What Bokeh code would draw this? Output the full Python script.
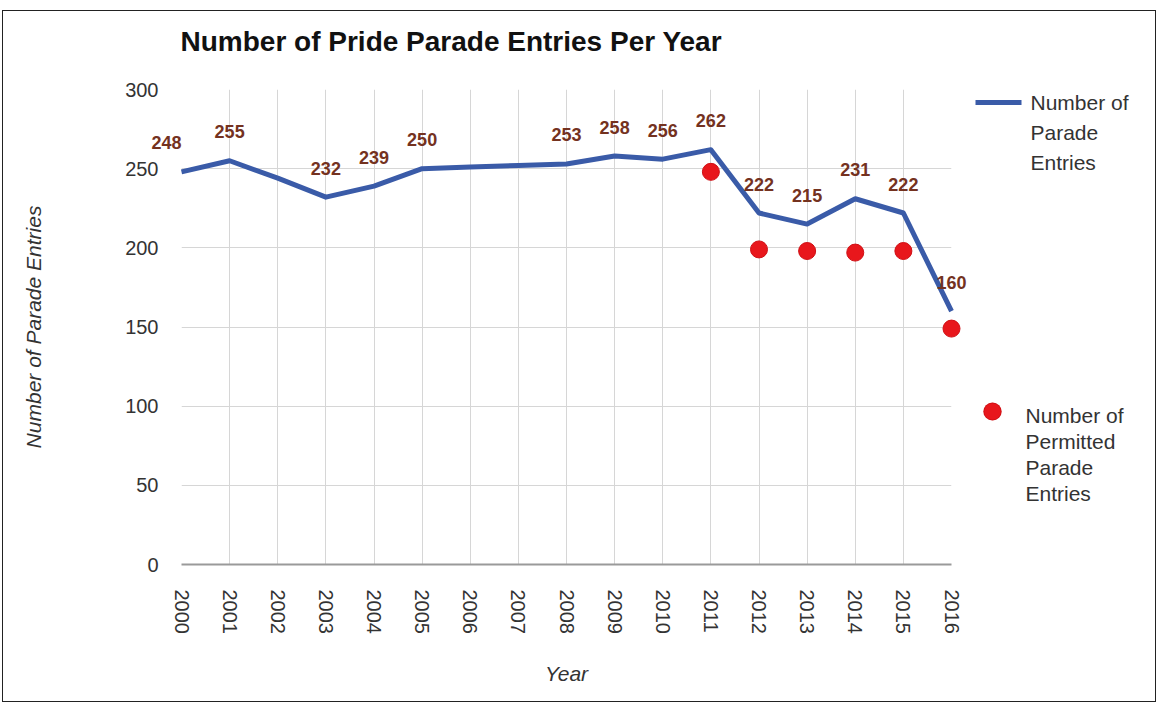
from bokeh.plotting import figure
from bokeh.models import Range1d, FixedTicker, ColumnDataSource
from bokeh.embed import file_html
from bokeh.resources import INLINE
from bokeh.core.properties import value

# ---- data ----
years = list(range(2000, 2017))
entries = [248, 255, 244, 232, 239, 250, 251, 252, 253, 258, 256, 262, 222, 215, 231, 222, 160]
label_shown = [True, True, False, True, True, True, False, False, True, True, True, True, True, True, True, True, True]
permitted_years = [2011, 2012, 2013, 2014, 2015, 2016]
permitted = [248, 199, 198, 197, 198, 149]
y_ticks = [0, 50, 100, 150, 200, 250, 300]

title_text = "Number of Pride Parade Entries Per Year"
x_title = "Year"
y_title = "Number of Parade Entries"
legend_entries = ["Number of", "Parade", "Entries"]
legend_permitted = ["Number of", "Permitted", "Parade", "Entries"]

FONT = "Liberation Sans"
BLUE = "#3a5ba8"
RED = "#e8171c"
LABEL_COL = "#74321f"
TXT = "#333333"

# page offset of the figure (margin) and frame placement (page pixels)
OX, OY = 2, 10
PX_L, PX_R, PX_T, PX_B = 181, 951, 89, 564
FL, FR, FT, FB = PX_L - OX - 1, PX_R - OX - 1, PX_T - OY - 1, PX_B - OY - 1
W, H = 1154, 692

x0, x1 = years[0], years[-1]
y0, y1 = y_ticks[0], y_ticks[-1]


def px_to_data(px, py):
    """page pixel -> data coords (used only for the legend swatches outside the frame)"""
    return (x0 + (px - PX_L) * (x1 - x0) / (PX_R - PX_L),
            y0 + (PX_B - py) * (y1 - y0) / (PX_B - PX_T))


p = figure(width=W, height=H,
           x_range=Range1d(x0, x1), y_range=Range1d(y0, y1),
           output_backend="svg", toolbar_location=None,
           min_border_left=FL, min_border_right=W - FR,
           min_border_top=FT, min_border_bottom=H - FB)
p.styles = {"border": "1px solid #222", "margin-left": f"{OX}px", "margin-top": f"{OY}px"}
p.outline_line_color = None
p.background_fill_color = "white"

# grid
p.xgrid.ticker = FixedTicker(ticks=years)
p.ygrid.ticker = FixedTicker(ticks=y_ticks)
p.xgrid.grid_line_color = "#d6d6d6"
p.ygrid.grid_line_color = "#d6d6d6"

# x axis
p.xaxis.ticker = FixedTicker(ticks=years)
p.xaxis.major_label_orientation = "vertical"
p.xaxis.axis_line_color = "#9a9a9a"
p.xaxis.axis_line_width = 2
p.xaxis.major_tick_line_color = None
p.xaxis.minor_tick_line_color = None
p.xaxis.major_tick_out = 0
p.xaxis.major_tick_in = 0
p.xaxis.major_label_standoff = 25
p.xaxis.major_label_text_font = FONT
p.xaxis.major_label_text_font_size = "20px"
p.xaxis.major_label_text_color = TXT
p.xaxis.axis_label = x_title
p.xaxis.axis_label_text_font = FONT
p.xaxis.axis_label_text_font_size = "21px"
p.xaxis.axis_label_text_font_style = "italic"
p.xaxis.axis_label_text_color = TXT
p.xaxis.axis_label_standoff = 25

# y axis
p.yaxis.ticker = FixedTicker(ticks=y_ticks)
p.yaxis.axis_line_color = None
p.yaxis.major_tick_line_color = None
p.yaxis.minor_tick_line_color = None
p.yaxis.major_tick_out = 0
p.yaxis.major_tick_in = 0
p.yaxis.major_label_standoff = 23
p.yaxis.major_label_text_font = FONT
p.yaxis.major_label_text_font_size = "20px"
p.yaxis.major_label_text_color = TXT
p.yaxis.axis_label = y_title
p.yaxis.axis_label_text_font = FONT
p.yaxis.axis_label_text_font_size = "21px"
p.yaxis.axis_label_text_font_style = "italic"
p.yaxis.axis_label_text_color = TXT
p.yaxis.axis_label_standoff = 77

# series
p.line(years, entries, line_color=BLUE, line_width=5, line_join="round", level="overlay")
p.scatter(permitted_years, permitted, size=17, fill_color=RED, line_color="#d01015",
          line_width=1, level="overlay")

# data labels
lab_x = [y for y, s in zip(years, label_shown) if s]
lab_v = [v for v, s in zip(entries, label_shown) if s]
lab_dx = [-15 if y == years[0] else 0 for y in lab_x]
src = ColumnDataSource(dict(x=lab_x, y=lab_v, t=[str(v) for v in lab_v], dx=lab_dx))
p.text(x="x", y="y", text="t", source=src, x_offset="dx", y_offset=-29,
       text_align="center", text_baseline="middle", text_font=value(FONT),
       text_font_size="18px", text_font_style="bold", text_color=LABEL_COL, level="overlay")

# title, anchored at the frame's top-left corner with pixel offsets
p.text(x=[x0], y=[y1], text=[title_text], x_offset=-1, y_offset=41 - PX_T,
       text_align="left", text_baseline="middle", text_font=value(FONT),
       text_font_size="28px", text_font_style="bold", text_color="#111111", level="overlay")

# legend texts, anchored at the frame's top-right corner with pixel offsets
leg1_dy = [102 - PX_T + 30 * i for i in range(len(legend_entries))]
p.text(x=[x1] * len(legend_entries), y=[y1] * len(legend_entries), text=legend_entries,
       x_offset=1030 - PX_R, y_offset=leg1_dy,
       text_align="left", text_baseline="middle", text_font=value(FONT),
       text_font_size="21px", text_color=TXT, level="overlay")
leg2_dy = [415 - PX_T + 26 * i for i in range(len(legend_permitted))]
p.text(x=[x1] * len(legend_permitted), y=[y1] * len(legend_permitted), text=legend_permitted,
       x_offset=1025 - PX_R, y_offset=leg2_dy,
       text_align="left", text_baseline="middle", text_font=value(FONT),
       text_font_size="21px", text_color=TXT, level="overlay")

# legend swatches (lines are not culled outside the frame; a round-capped stub makes the dot)
sx0, sy0 = px_to_data(975, 102)
sx1, _ = px_to_data(1021, 102)
p.line([sx0, sx1], [sy0, sy0], line_color=BLUE, line_width=5, level="overlay")
dxa, dya = px_to_data(991.8, 411)
dxb, _ = px_to_data(992.2, 411)
p.line([dxa, dxb], [dya, dya], line_color="#d01015", line_width=18, line_cap="round", level="overlay")
p.line([dxa, dxb], [dya, dya], line_color=RED, line_width=16, line_cap="round", level="overlay")

open("out.html", "w").write(file_html(p, INLINE))
